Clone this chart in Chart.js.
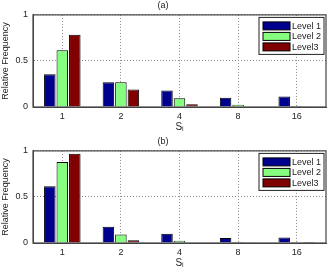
<!DOCTYPE html>
<html>
<head>
<meta charset="utf-8">
<script src="https://cdn.jsdelivr.net/npm/chart.js@4"></script>
<style>
  html, body { margin: 0; padding: 0; background: #fff; }
  .panel { position: relative; width: 332px; height: 136px; }
</style>
</head>
<body>
<div class="panel"><canvas id="chartA"></canvas></div>
<div class="panel"><canvas id="chartB"></canvas></div>
<script>
const categories = ['1', '2', '4', '8', '16'];
const levelNames = ['Level 1', 'Level 2', 'Level3'];
const levelColors = ['#00008f', '#86ff80', '#800000'];
const yTicks = [0, 0.5, 1];

// panel (a)
const a_level1 = [0.355, 0.27, 0.18, 0.10, 0.115];
const a_level2 = [0.615, 0.27, 0.095, 0.025, 0.01];
const a_level3 = [0.785, 0.19, 0.03, 0.005, 0.002];

// panel (b)
const b_level1 = [0.615, 0.176, 0.10, 0.054, 0.06];
const b_level2 = [0.88, 0.093, 0.025, 0.01, 0.003];
const b_level3 = [0.968, 0.03, 0.005, 0.002, 0.001];

const fontFamily = "'Liberation Sans', Arial, sans-serif";

// frame box + legend inside the axes, matlab style
const boxLegendPlugin = {
    id: 'boxLegend',
    afterDraw(chart) {
        const { ctx, chartArea } = chart;
        ctx.save();
        ctx.strokeStyle = '#444';
        ctx.lineWidth = 1.2;
        ctx.strokeRect(chartArea.left, chartArea.top, chartArea.right - chartArea.left, chartArea.bottom - chartArea.top);

        const bx = 259, by = chartArea.top + 2.5, bw = 65, bh = 37;
        ctx.fillStyle = '#fff';
        ctx.fillRect(bx, by, bw, bh);
        ctx.strokeStyle = '#222';
        ctx.lineWidth = 1;
        ctx.strokeRect(bx, by, bw, bh);
        ctx.font = '9px ' + fontFamily;
        ctx.textBaseline = 'middle';
        chart.data.datasets.forEach((ds, i) => {
            const cy = by + 8.5 + i * 10.5;
            ctx.fillStyle = ds.backgroundColor;
            ctx.fillRect(bx + 4, cy - 4, 27, 8);
            ctx.strokeStyle = '#000';
            ctx.strokeRect(bx + 4, cy - 4, 27, 8);
            ctx.fillStyle = '#222';
            ctx.fillText(ds.label, bx + 33, cy + 0.5);
        });
        ctx.restore();
    }
};

function buildPanel(canvasId, title, l1, l2, l3) {
    const series = [l1, l2, l3];
    return new Chart(document.getElementById(canvasId), {
        type: 'bar',
        data: {
            labels: categories,
            datasets: series.map((values, i) => ({
                label: levelNames[i],
                data: values,
                backgroundColor: levelColors[i],
                borderColor: '#000',
                borderWidth: 1,
                categoryPercentage: 0.64,
                barPercentage: 0.92,
            })),
        },
        options: {
            animation: false,
            responsive: true,
            maintainAspectRatio: false,
            layout: { padding: { left: 0, right: 6, top: 0, bottom: 0 } },
            plugins: {
                legend: { display: false },
                tooltip: { enabled: false },
                title: {
                    display: true,
                    text: title,
                    color: '#222',
                    font: { size: 9, family: fontFamily, weight: 'normal', lineHeight: 1.1 },
                    padding: { top: 1, bottom: 4 },
                },
            },
            scales: {
                x: {
                    offset: true,
                    grid: {
                        offset: false,
                        color: '#888',
                        lineWidth: 1,
                        tickLength: 0,
                        drawTicks: false,
                    },
                    border: { display: true, color: '#444', dash: [1, 2] },
                    ticks: {
                        color: '#222',
                        padding: 4,
                        font: { size: 9, family: fontFamily },
                    },
                    title: {
                        display: true,
                        text: 'S\u1D62',
                        color: '#222',
                        padding: { top: 0, bottom: 3 },
                        font: { size: 10, family: fontFamily },
                    },
                    afterFit(scale) { scale.height = 29; },
                },
                y: {
                    min: 0,
                    max: 1,
                    afterBuildTicks(scale) {
                        scale.ticks = yTicks.map((v) => ({ value: v }));
                    },
                    grid: {
                        color: '#888',
                        lineWidth: 1,
                        drawTicks: false,
                        tickLength: 0,
                    },
                    border: { display: true, color: '#444', dash: [1, 2] },
                    ticks: {
                        color: '#222',
                        padding: 5,
                        font: { size: 9, family: fontFamily },
                        callback: (v) => String(v),
                    },
                    title: {
                        display: true,
                        text: 'Relative Frequency',
                        color: '#222',
                        padding: { top: 0, bottom: 1 },
                        font: { size: 9, family: fontFamily },
                    },
                    afterFit(scale) { scale.width = 33; },
                },
            },
        },
        plugins: [boxLegendPlugin],
    });
}

buildPanel('chartA', '(a)', a_level1, a_level2, a_level3);
buildPanel('chartB', '(b)', b_level1, b_level2, b_level3);
</script>
</body>
</html>
